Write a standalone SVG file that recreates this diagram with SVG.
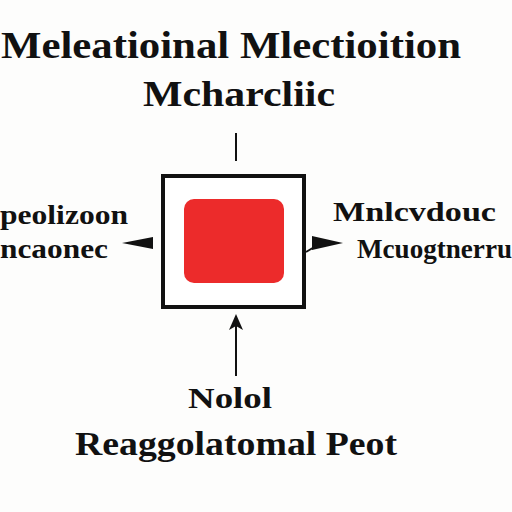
<svg xmlns="http://www.w3.org/2000/svg" width="512" height="512" viewBox="0 0 512 512">
<style>
.t{font-family:"Liberation Serif","DejaVu Serif",serif;font-weight:bold;fill:#111}
.s{font-family:"Liberation Serif","DejaVu Serif",serif;fill:#111;font-weight:bold}
.ln{stroke:#111;stroke-width:2;fill:none}
</style>
<rect width="512" height="512" fill="#fdfdfc"/>
<g id="title">
<text class="t" x="231" y="58" font-size="37" text-anchor="middle" textLength="460" lengthAdjust="spacingAndGlyphs">Meleatioinal Mlectioition</text>
<text class="t" x="239" y="106" font-size="35" text-anchor="middle" textLength="192" lengthAdjust="spacingAndGlyphs">Mcharcliic</text>
</g>
<g id="connectors">
<line class="ln" x1="236" y1="133" x2="236" y2="161"/>
<path d="M153,237 L122,243 L153,249 Z" fill="#111"/>
<path d="M312,236 L343,243 L312,250 Z" fill="#111"/>
<line class="ln" x1="306" y1="252" x2="316" y2="246" stroke-width="1"/>
<line class="ln" x1="236" y1="325" x2="236" y2="376" stroke-width="1.5"/>
<path d="M236,314 L229,330 L236,326 L243,330 Z" fill="#111"/>
</g>
<g id="box">
<rect x="163" y="176" width="141" height="131" fill="#fff" stroke="#111" stroke-width="4"/>
<rect x="184" y="199" width="100" height="84" rx="10" fill="#ec2b2b"/>
</g>
<g id="left">
<text class="s" x="0" y="224" font-size="28" textLength="128" lengthAdjust="spacingAndGlyphs">peolizoon</text>
<text class="s" x="0" y="258" font-size="27" textLength="108" lengthAdjust="spacingAndGlyphs">ncaonec</text>
</g>
<g id="right">
<text class="t" x="333" y="221" font-size="28" textLength="163" lengthAdjust="spacingAndGlyphs">Mnlcvdouc</text>
<text class="s" x="357" y="258" font-size="27" textLength="155" lengthAdjust="spacingAndGlyphs">Mcuogtnerru</text>
</g>
<g id="bottom">
<text class="t" x="230" y="408" font-size="30" text-anchor="middle" textLength="84" lengthAdjust="spacingAndGlyphs">Nolol</text>
<text class="t" x="236" y="455" font-size="33" text-anchor="middle" textLength="322" lengthAdjust="spacingAndGlyphs">Reaggolatomal Peot</text>
</g>
</svg>
